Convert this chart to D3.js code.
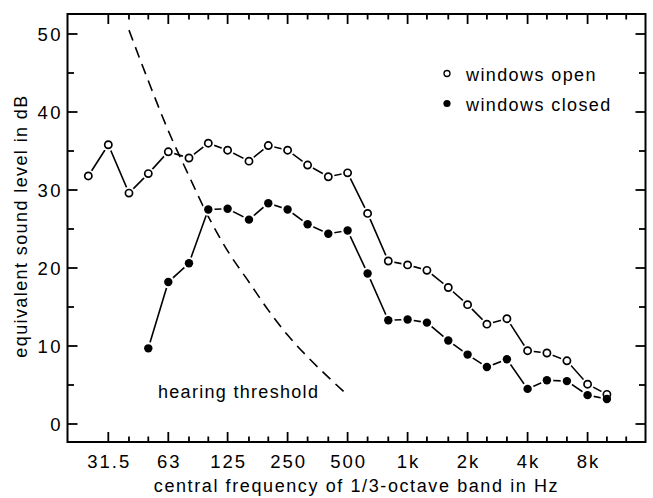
<!DOCTYPE html>
<html>
<head>
<meta charset="utf-8">
<script src="https://cdn.jsdelivr.net/npm/d3@7"></script>
<style>
  body { margin: 0; background: #fff; }
  text { font-family: "Liberation Sans", Arial, sans-serif; fill: #000; }
</style>
</head>
<body>
<svg id="chart" width="653" height="498"></svg>
<script>
// 1/3-octave band centre frequencies (Hz)
var openBands = [25, 31.5, 40, 50, 63, 80, 100, 125, 160, 200, 250, 315, 400, 500, 630, 800,
  1000, 1250, 1600, 2000, 2500, 3150, 4000, 5000, 6300, 8000, 10000];
var openLevels = [31.8, 35.8, 29.6, 32.1, 34.9, 34.1, 36.0, 35.1, 33.7, 35.7, 35.1, 33.2, 31.7, 32.2, 27.0, 20.9,
  20.4, 19.7, 17.5, 15.3, 12.8, 13.5, 9.4, 9.1, 8.1, 5.1, 3.8];

var closedBands = [50, 63, 80, 100, 125, 160, 200, 250, 315, 400, 500, 630, 800,
  1000, 1250, 1600, 2000, 2500, 3150, 4000, 5000, 6300, 8000, 10000];
var closedLevels = [9.7, 18.2, 20.6, 27.5, 27.6, 26.2, 28.3, 27.5, 25.6, 24.4, 24.8, 19.3, 13.3,
  13.4, 13.0, 10.7, 8.9, 7.3, 8.3, 4.5, 5.6, 5.5, 3.7, 3.2];

var thresholdBands = [40, 50, 63, 80, 100, 125, 160, 200, 250, 315, 400, 500];
var thresholdLevels = [50.5, 44.0, 37.6, 31.8, 26.6, 22.2, 18.2, 14.6, 11.4, 8.6, 6.0, 3.7];

var tickBands = [31.5, 40, 50, 63, 80, 100, 125, 160, 200, 250, 315, 400, 500, 630, 800,
  1000, 1250, 1600, 2000, 2500, 3150, 4000, 5000, 6300, 8000, 10000, 12500];
var labelBands = [31.5, 63, 125, 250, 500, 1000, 2000, 4000, 8000];
var labelText = ["31.5", "63", "125", "250", "500", "1k", "2k", "4k", "8k"];
var yTicks = [0, 5, 10, 15, 20, 25, 30, 35, 40, 45, 50];
var yLabels = [0, 10, 20, 30, 40, 50];

// frame of the plot area
var frameLeft = 67.5, frameRight = 645.5, frameTop = 14, frameBottom = 442;

var svg = d3.select("#chart");

var x = d3.scaleLog().domain([25, 10000]).range([88.3, 606.9]);
var y = d3.scaleLinear().domain([0, 50]).range([424, 34]);

// frame
svg.append("rect")
  .attr("x", frameLeft).attr("y", frameTop)
  .attr("width", frameRight - frameLeft).attr("height", frameBottom - frameTop)
  .attr("fill", "none").attr("stroke", "#000").attr("stroke-width", 2);

var isMajorX = function(f) { return labelBands.indexOf(f) >= 0; };

// x ticks, bottom and top, pointing inwards
var xt = svg.append("g").attr("stroke", "#000").attr("stroke-width", 1.8);
tickBands.forEach(function(f) {
  var len = isMajorX(f) ? 10 : 5.5;
  xt.append("line").attr("x1", x(f)).attr("x2", x(f)).attr("y1", frameBottom).attr("y2", frameBottom - len);
  xt.append("line").attr("x1", x(f)).attr("x2", x(f)).attr("y1", frameTop).attr("y2", frameTop + len);
});

// y ticks, left and right
var yt = svg.append("g").attr("stroke", "#000").attr("stroke-width", 1.8);
yTicks.forEach(function(v) {
  var len = v % 10 === 0 ? 10 : 6.5;
  yt.append("line").attr("x1", frameLeft).attr("x2", frameLeft + len).attr("y1", y(v)).attr("y2", y(v));
  yt.append("line").attr("x1", frameRight).attr("x2", frameRight - len).attr("y1", y(v)).attr("y2", y(v));
});

// tick labels
svg.append("g").selectAll("text")
  .data(labelBands)
  .join("text")
  .attr("x", function(d) { return x(d) + 1; })
  .attr("y", 468)
  .attr("text-anchor", "middle")
  .attr("font-size", 18.5)
  .attr("letter-spacing", 2)
  .text(function(d, i) { return labelText[i]; });

svg.append("g").selectAll("text")
  .data(yLabels)
  .join("text")
  .attr("x", 63)
  .attr("y", function(d) { return y(d); })
  .attr("dy", "0.36em")
  .attr("text-anchor", "end")
  .attr("font-size", 18.5)
  .attr("letter-spacing", 2.5)
  .text(function(d) { return d; });

// axis titles
svg.append("text")
  .attr("x", (frameLeft + frameRight) / 2)
  .attr("y", 492)
  .attr("text-anchor", "middle")
  .attr("font-size", 18)
  .attr("letter-spacing", 1.6)
  .text("central frequency of 1/3-octave band in Hz");

svg.append("text")
  .attr("transform", "translate(27," + 226 + ") rotate(-90)")
  .attr("text-anchor", "middle")
  .attr("font-size", 18)
  .attr("letter-spacing", 1.4)
  .text("equivalent sound level in dB");

// hearing threshold
var thresholdData = thresholdBands.map(function(f, i) { return { f: f, v: thresholdLevels[i] }; });
var thrLine = d3.line()
  .x(function(d) { return x(d.f); })
  .y(function(d) { return y(d.v); })
  .curve(d3.curveMonotoneX);

svg.append("path")
  .attr("d", thrLine(thresholdData))
  .attr("fill", "none")
  .attr("stroke", "#000")
  .attr("stroke-width", 1.6)
  .attr("stroke-dasharray", "11,7");

svg.append("text")
  .attr("x", 158)
  .attr("y", 398)
  .attr("font-size", 18)
  .attr("letter-spacing", 1.3)
  .text("hearing threshold");

// data series
var series = [
  { bands: openBands, levels: openLevels, filled: false },
  { bands: closedBands, levels: closedLevels, filled: true }
];

var dataLine = d3.line()
  .x(function(d) { return x(d.f); })
  .y(function(d) { return y(d.v); });

series.forEach(function(s) {
  s.points = s.bands.map(function(f, i) { return { f: f, v: s.levels[i] }; });
  svg.append("path")
    .attr("d", dataLine(s.points))
    .attr("fill", "none")
    .attr("stroke", "#000")
    .attr("stroke-width", 1.6);
});

// white halos leave a gap between lines and markers
series.forEach(function(s) {
  svg.append("g").selectAll("circle")
    .data(s.points)
    .join("circle")
    .attr("cx", function(d) { return x(d.f); })
    .attr("cy", function(d) { return y(d.v); })
    .attr("r", 6.3)
    .attr("fill", "#fff");
});

series.forEach(function(s) {
  svg.append("g").selectAll("circle")
    .data(s.points)
    .join("circle")
    .attr("cx", function(d) { return x(d.f); })
    .attr("cy", function(d) { return y(d.v); })
    .attr("r", s.filled ? 4.2 : 3.6)
    .attr("fill", s.filled ? "#000" : "#fff")
    .attr("stroke", "#000")
    .attr("stroke-width", s.filled ? 0 : 1.7);
});

// legend
var legend = svg.append("g");
legend.append("circle").attr("cx", 447).attr("cy", 73.5).attr("r", 3)
  .attr("fill", "#fff").attr("stroke", "#000").attr("stroke-width", 1.3);
legend.append("text").attr("x", 466).attr("y", 80.5)
  .attr("font-size", 18).attr("letter-spacing", 1.4).text("windows open");
legend.append("circle").attr("cx", 447).attr("cy", 103.5).attr("r", 3.6)
  .attr("fill", "#000");
legend.append("text").attr("x", 466).attr("y", 110.5)
  .attr("font-size", 18).attr("letter-spacing", 1.4).text("windows closed");
</script>
</body>
</html>
